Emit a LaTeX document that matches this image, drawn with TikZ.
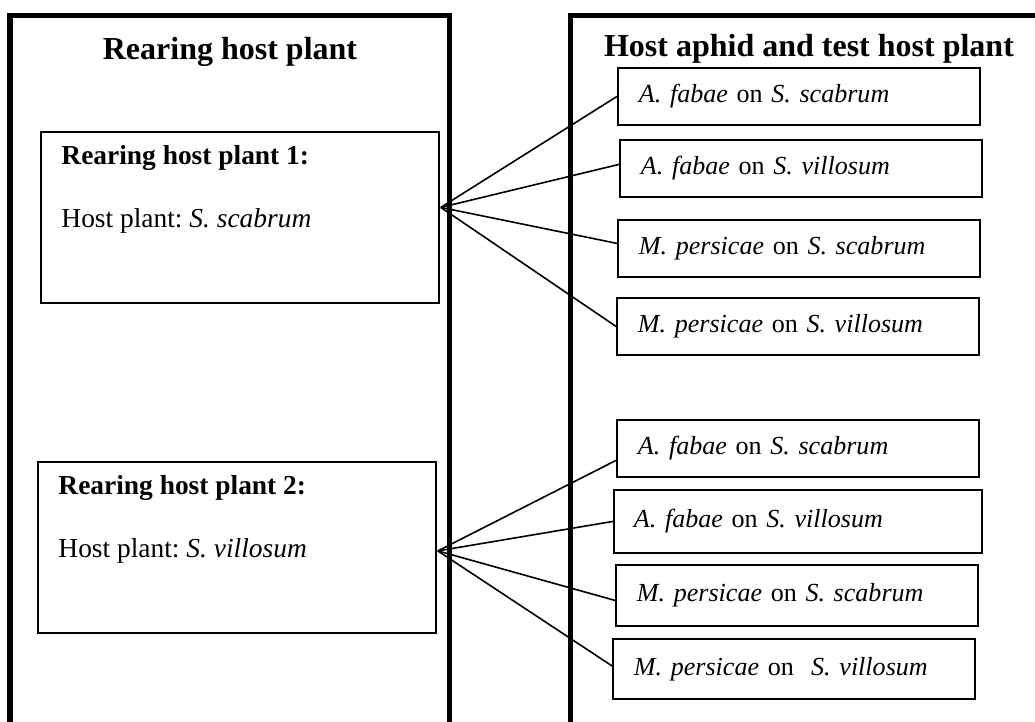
\documentclass[tikz,border=0pt]{standalone}
\usepackage{fontspec}
\setmainfont{Liberation Serif}
\usetikzlibrary{
    positioning,
    calc
}
\newcommand{\pxu}{0.4375pt}
\frenchspacing

\begin{document}
\begin{tikzpicture}[
    x=0.4375pt, y=-0.4375pt,
    font=\fontsize{12}{14}\selectfont,
    frame/.style={line width=2.2pt},
    rearbox/.style={
        draw, line width=0.8pt, anchor=north west,
        minimum width=398*\pxu, minimum height=171*\pxu
    },
    reartxt/.style={anchor=base west, inner sep=0pt},
    pairbox/.style={
        draw, line width=0.8pt, anchor=north west,
        inner xsep=21*\pxu, text width=320*\pxu, align=left,
        minimum height=57*\pxu, font=\fontsize{11.4}{13.5}\selectfont
    },
    fan/.style={line width=0.7pt},
]

\clip (0,0) rectangle (1035,722);

% ── Column frames (open at the bottom) ──
\draw[frame] (10,740) -- (10,15.5) -- (449.5,15.5) -- (449.5,740);
\draw[frame] (570.5,740) -- (570.5,15.5) -- (1045,15.5);

% Column titles
\node[anchor=base, font=\fontsize{14}{16}\selectfont\bfseries]
    (ttlrear) at (230,60) {Rearing host plant};
\node[anchor=base, font=\fontsize{14}{16}\selectfont\bfseries]
    (ttltest) at (809,56.7) {Host aphid and test host plant};

% ── Rearing host plants ──
\node[rearbox] (rhp1) at (40,131) {};
\node[reartxt, font=\fontsize{12}{14}\selectfont\bfseries]
    (rhp1h) at ($(rhp1.north west)+(21,34)$) {Rearing host plant 1:};
\node[reartxt] (rhp1t) at ($(rhp1.north west)+(21,97)$)
    {Host plant: \textit{S. scabrum}};

\node[rearbox] (rhp2) at (37,461) {};
\node[reartxt, font=\fontsize{12}{14}\selectfont\bfseries]
    (rhp2h) at ($(rhp2.north west)+(21,34)$) {Rearing host plant 2:};
\node[reartxt] (rhp2t) at ($(rhp2.north west)+(21,97)$)
    {Host plant: \textit{S. villosum}};

% ── Aphid / test plant pairs ──
\node[pairbox] (pa1) at (617,67)  {\textit{A. fabae} on \textit{S. scabrum}};
\node[pairbox] (pa2) at (619,139) {\textit{A. fabae} on \textit{S. villosum}};
\node[pairbox] (pa3) at (617,219) {\textit{M. persicae} on \textit{S. scabrum}};
\node[pairbox] (pa4) at (616,297) {\textit{M. persicae} on \textit{S. villosum}};

\node[pairbox] (pb1) at (616,419) {\textit{A. fabae} on \textit{S. scabrum}};
\node[pairbox, inner xsep=20*\pxu, text width=328*\pxu, minimum height=63*\pxu]
    (pb2) at (613,489) {\textit{A. fabae} on \textit{S. villosum}};
\node[pairbox, minimum height=61*\pxu]
    (pb3) at (615,564) {\textit{M. persicae} on \textit{S. scabrum}};
\node[pairbox, minimum height=60*\pxu]
    (pb4) at (612,638) {\textit{M. persicae} on ~\textit{S. villosum}};

% ── Fan-out connectors ──
\coordinate (fan1) at ($(rhp1.east)+(1,-10)$);
\coordinate (fan2) at ($(rhp2.east)+(1,3.5)$);

\draw[fan] (fan1) -- (pa1.west);
\draw[fan] (fan1) -- ($(pa2.west)+(0,-4)$);
\draw[fan] (fan1) -- ($(pa3.west)+(0,-5)$);
\draw[fan] (fan1) -- (pa4.west);

\draw[fan] (fan2) -- ($(pb1.west)+(0,12)$);
\draw[fan] (fan2) -- (pb2.west);
\draw[fan] (fan2) -- ($(pb3.west)+(0,5)$);
\draw[fan] (fan2) -- ($(pb4.west)+(0,-3)$);

\end{tikzpicture}
\end{document}
